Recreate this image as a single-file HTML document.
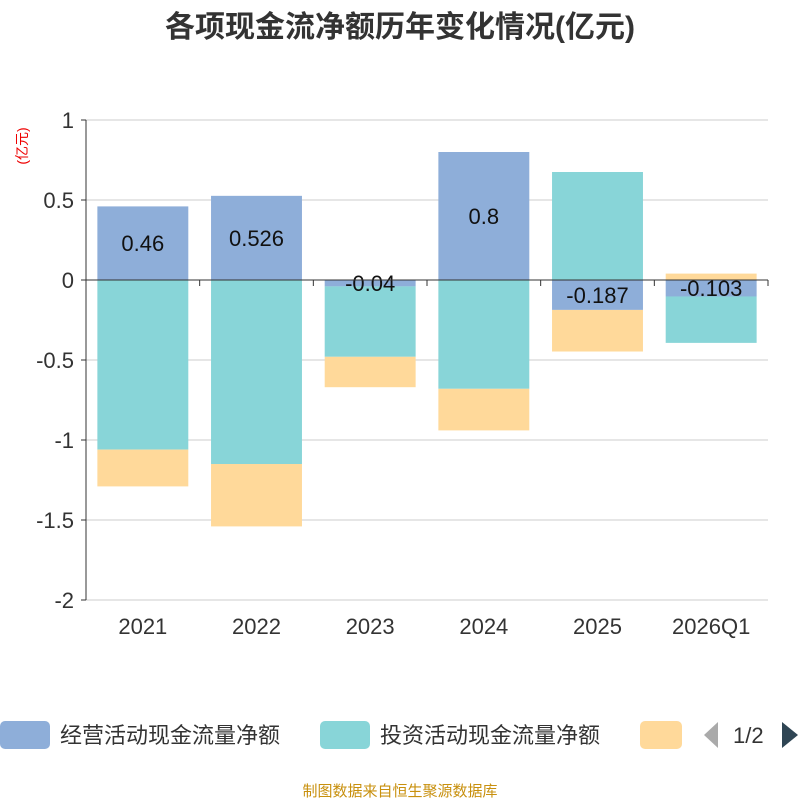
<!DOCTYPE html>
<html><head><meta charset="utf-8">
<style>
body{margin:0;background:#fff;width:800px;height:800px;overflow:hidden;font-family:"Liberation Sans","Noto Sans CJK SC",sans-serif;}
</style></head>
<body>
<svg id="c" width="800" height="800" xmlns="http://www.w3.org/2000/svg">
<text x="400" y="37" text-anchor="middle" font-size="30" font-weight="bold" fill="#333" font-family="Liberation Sans, Noto Sans CJK SC, sans-serif">各项现金流净额历年变化情况(亿元)</text>
<text transform="translate(27,146) rotate(-90)" text-anchor="middle" font-size="14" fill="#e00" font-family="Liberation Sans, Noto Sans CJK SC, sans-serif">(亿元)</text>
<g id="grid"></g><g id="bars"></g><g id="axes"></g>
<g font-family="Liberation Sans, Noto Sans CJK SC, sans-serif" font-size="22" fill="#333">
<rect x="0" y="721" width="50" height="28" rx="5" fill="#8eaed9"/>
<text x="60" y="743">经营活动现金流量净额</text>
<rect x="320" y="721" width="50" height="28" rx="5" fill="#88d5d8"/>
<text x="380" y="743">投资活动现金流量净额</text>
<rect x="640" y="721" width="42" height="28" rx="5" fill="#ffd99a"/>
<polygon points="718,722 718,748 704,735" fill="#aaa"/>
<text x="733" y="743">1/2</text>
<polygon points="782,722 782,748 798,735" fill="#2f4554"/>
</g>
<text x="400" y="796" text-anchor="middle" font-size="15" fill="#c8900e" font-family="Liberation Sans, Noto Sans CJK SC, sans-serif">制图数据来自恒生聚源数据库</text>
</svg>
<script>
const categories=["2021","2022","2023","2024","2025","2026Q1"];
const operating=[0.46,0.526,-0.04,0.8,-0.187,-0.103];
const investing=[-1.06,-1.15,-0.44,-0.68,0.675,-0.29];
const financing=[-0.23,-0.39,-0.19,-0.26,-0.26,0.04];
const yTicks=[1,0.5,0,-0.5,-1,-1.5,-2];
const NS="http://www.w3.org/2000/svg";
const plotLeft=86,plotRight=768,plotTop=120,plotBottom=600,ymax=1,ymin=-2;
const yScale=v=>plotTop+(ymax-v)/(ymax-ymin)*(plotBottom-plotTop);
const bw=(plotRight-plotLeft)/categories.length;
const xc=i=>plotLeft+bw*(i+0.5);
function mk(tag,attrs,parent){const e=document.createElementNS(NS,tag);for(const k in attrs)e.setAttribute(k,attrs[k]);document.getElementById(parent).appendChild(e);return e;}
yTicks.forEach(t=>{
 const g=mk('line',{x1:plotLeft,x2:plotRight,y1:yScale(t),y2:yScale(t),stroke:'#ccc','stroke-width':1},'grid');
 
 
 const tk=mk('line',{x1:plotLeft-5,x2:plotLeft,y1:yScale(t),y2:yScale(t),stroke:'#333'},'axes');
 
 
 const l=mk('text',{x:plotLeft-12,y:yScale(t)+8,'text-anchor':'end','font-size':22,fill:'#333','font-family':'Liberation Sans, sans-serif'},'axes');
 l.textContent=String(t);
 
 
});
const series=[[operating,'#8eaed9','operating'],[investing,'#88d5d8','investing'],[financing,'#ffd99a','financing']];
categories.forEach((c,i)=>{
 let pos=0,neg=0;
 series.forEach(([arr,col,nm])=>{
  const v=arr[i];let a,b;
  if(v>=0){a=pos;b=pos+v;pos=b;}else{a=neg;b=neg+v;neg=b;}
  const r=mk('rect',{x:xc(i)-bw*0.4,width:bw*0.8,y:Math.min(yScale(a),yScale(b)),height:Math.abs(yScale(a)-yScale(b)),fill:col},'bars');
  
  
 });
 const v=operating[i];
 const t=mk('text',{x:xc(i),y:(yScale(0)+yScale(v))/2+8,'text-anchor':'middle','font-size':22,fill:'#111','font-family':'Liberation Sans, sans-serif'},'bars');
 t.textContent=String(v);
 
 
 const xl=mk('text',{x:xc(i),y:634,'text-anchor':'middle','font-size':22,fill:'#333','font-family':'Liberation Sans, sans-serif'},'axes');
 xl.textContent=c;
 
 
});
for(let i=0;i<=categories.length;i++){
 const tk=mk('line',{x1:plotLeft+bw*i,x2:plotLeft+bw*i,y1:yScale(0),y2:yScale(0)+6,stroke:'#333'},'axes');
 
 
}
const xa=mk('line',{x1:plotLeft,x2:plotRight,y1:yScale(0),y2:yScale(0),stroke:'#333'},'axes');


const ya=mk('line',{x1:plotLeft,x2:plotLeft,y1:plotTop,y2:plotBottom,stroke:'#333'},'axes');


</script>
</body></html>
